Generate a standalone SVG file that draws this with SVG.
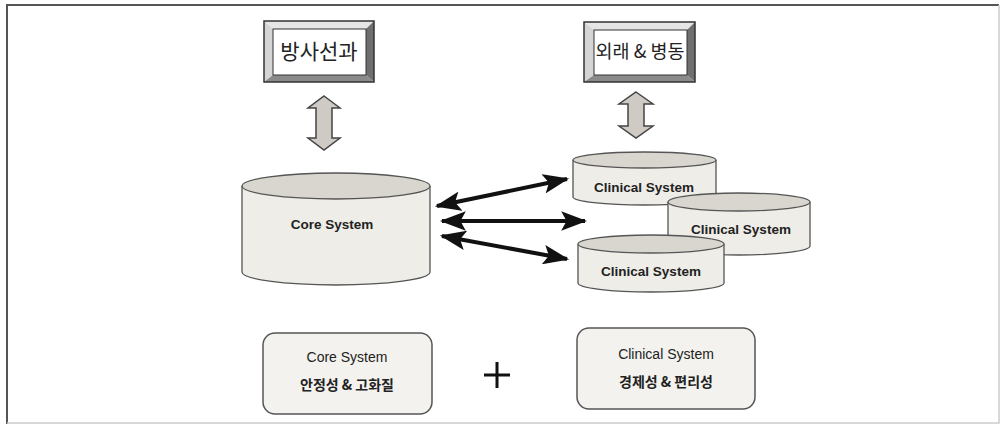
<svg xmlns="http://www.w3.org/2000/svg" width="1000" height="428" viewBox="0 0 1000 428">
<defs>
<style>
.lbl{font-family:"Liberation Sans","Noto Sans CJK KR",sans-serif;fill:#222;text-anchor:middle}
.kr{font-family:"Noto Sans CJK KR","Liberation Sans",sans-serif;fill:#222;text-anchor:middle}
.cylb{fill:#efede8;stroke:#555;stroke-width:1.3}
.cylt{fill:#d9d6d0;stroke:#555;stroke-width:1.3}
.rbox{fill:#f3f2ee;stroke:#555;stroke-width:1.5}
.bl{stroke:#111;stroke-width:4;fill:none}
.gray{fill:#cfcbc4;stroke:#444;stroke-width:1.5}
</style>
<marker id="ah" viewBox="0 0 12 9" refX="11" refY="4.5" markerWidth="6.5" markerHeight="4.9" orient="auto-start-reverse" markerUnits="strokeWidth">
<path d="M0,0 L12,4.5 L0,9 L2.5,4.5 Z" fill="#111"/>
</marker>
</defs>
<rect x="0" y="0" width="1000" height="428" fill="#fff"/>
<path d="M7,424 L7,5 L999,5" fill="none" stroke="#555" stroke-width="2"/>
<path d="M7,423 L999,423 L999,5" fill="none" stroke="#ccc" stroke-width="1.5"/>

<g id="n-radiology">
<polygon points="264,21 374,21 366,29 273,29" fill="#e6e6e6"/>
<polygon points="264,21 273,29 273,75 264,82" fill="#d4d4d4"/>
<polygon points="374,21 374,82 366,75 366,29" fill="#6f6f6f"/>
<polygon points="264,82 374,82 366,75 273,75" fill="#8a8a8a"/>
<rect x="264" y="21" width="110" height="61" fill="none" stroke="#333" stroke-width="1.5"/>
<rect x="273" y="29" width="93" height="46" fill="#fff" stroke="#333" stroke-width="1"/>
<text class="kr" x="319" y="59" font-size="21">방사선과</text>
</g>

<g id="n-ward">
<polygon points="584,22 695,22 687,30 594,30" fill="#e6e6e6"/>
<polygon points="584,22 594,30 594,75 584,82" fill="#d4d4d4"/>
<polygon points="695,22 695,82 687,75 687,30" fill="#6f6f6f"/>
<polygon points="584,82 695,82 687,75 594,75" fill="#8a8a8a"/>
<rect x="584" y="22" width="111" height="60" fill="none" stroke="#333" stroke-width="1.5"/>
<rect x="594" y="30" width="93" height="45" fill="#fff" stroke="#333" stroke-width="1"/>
<text class="kr" x="640" y="58" font-size="18.5">외래 &amp; 병동</text>
</g>

<g id="n-core">
<path class="cylb" d="M242,186 L242,272 A94,13 0 0 0 430,272 L430,186"/>
<ellipse class="cylt" cx="336" cy="186" rx="94" ry="13"/>
<text class="lbl" x="332" y="229" font-size="13.5" font-weight="bold" fill="#333">Core System</text>
</g>

<g id="n-clin1">
<path class="cylb" d="M573,160 L573,197 A71.5,8 0 0 0 716,197 L716,160"/>
<ellipse class="cylt" cx="644.5" cy="160" rx="71.5" ry="8"/>
<text class="lbl" x="644" y="192" font-size="13.5" font-weight="bold">Clinical System</text>
</g>

<g id="n-clin2">
<path class="cylb" d="M668,202 L668,246 A71,9 0 0 0 810,246 L810,202"/>
<ellipse class="cylt" cx="739" cy="202" rx="71" ry="9"/>
<text class="lbl" x="741" y="234" font-size="13.5" font-weight="bold">Clinical System</text>
</g>

<g id="n-clin3">
<path class="cylb" d="M578,244 L578,283 A73,9 0 0 0 724,283 L724,244"/>
<ellipse class="cylt" cx="651" cy="244" rx="73" ry="9"/>
<text class="lbl" x="651" y="276" font-size="13.5" font-weight="bold">Clinical System</text>
</g>

<g id="n-corebox">
<rect class="rbox" x="263" y="333" width="169" height="81" rx="12"/>
<text class="lbl" x="347" y="362" font-size="14">Core System</text>
<text class="kr" x="347" y="390" font-size="14" font-weight="bold">안정성 &amp; 고화질</text>
</g>

<g id="n-plus">
<path d="M484,375 L510,375 M497,362 L497,388" stroke="#111" stroke-width="3"/>
</g>

<g id="n-clinbox">
<rect class="rbox" x="577" y="328" width="178" height="81" rx="12"/>
<text class="lbl" x="666" y="359" font-size="14">Clinical System</text>
<text class="kr" x="666" y="387" font-size="14" font-weight="bold">경제성 &amp; 편리성</text>
</g>

<g id="connectors">
<path class="gray" d="M324,96 L340,108 L332,108 L332,138 L340,138 L324,150 L308,138 L316,138 L316,108 L308,108 Z"/>
<path class="gray" d="M636,92 L653,104 L644,104 L644,126 L653,126 L636,138 L619,126 L628,126 L628,104 L619,104 Z"/>
<line class="bl" x1="437" y1="206" x2="567" y2="179" marker-start="url(#ah)" marker-end="url(#ah)"/>
<line class="bl" x1="442" y1="221" x2="585" y2="221" marker-start="url(#ah)" marker-end="url(#ah)"/>
<line class="bl" x1="442" y1="236" x2="567" y2="259" marker-start="url(#ah)" marker-end="url(#ah)"/>
</g>
</svg>
